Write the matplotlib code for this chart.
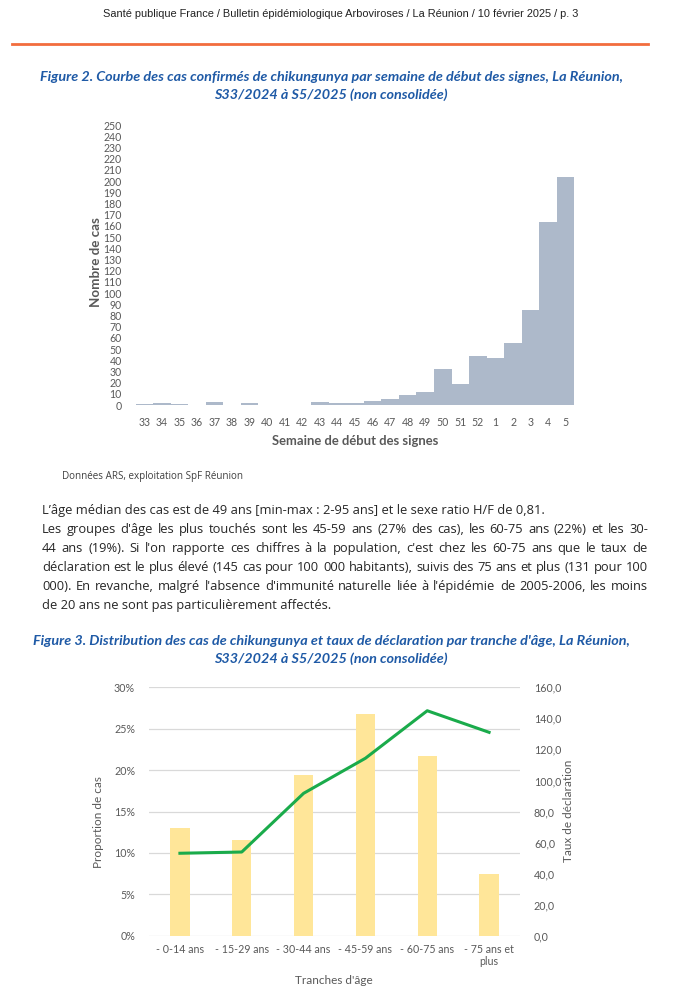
import numpy as np
import matplotlib
matplotlib.use('Agg')
import matplotlib.pyplot as plt
from matplotlib.ticker import FuncFormatter, MultipleLocator

# --- données figure 2 : cas confirmés par semaine
semaines = ['33', '34', '35', '36', '37', '38', '39', '40', '41', '42', '43', '44', '45',
            '46', '47', '48', '49', '50', '51', '52', '1', '2', '3', '4', '5']
cas = [1, 2, 1, 0, 3, 0, 2, 0, 0, 0, 3, 2, 2, 4, 5, 9, 12, 32, 19, 44, 42, 55, 85, 163, 204]

# --- données figure 3 : tranches d'âge
tranches = ['- 0-14 ans', '- 15-29 ans', '- 30-44 ans', '- 45-59 ans', '- 60-75 ans', '- 75 ans et\nplus']
proportion = [13.0, 11.5, 19.4, 26.8, 21.7, 7.5]
taux = [53.1, 53.9, 91.7, 114.3, 144.9, 131.0]

entete = "Santé publique France / Bulletin épidémiologique Arboviroses / La Réunion / 10 février 2025 / p. 3"
titre2 = ["Figure 2. Courbe des cas confirmés de chikungunya par semaine de début des signes, La Réunion,",
          "S33/2024 à S5/2025 (non consolidée)"]
titre3 = ["Figure 3. Distribution des cas de chikungunya et taux de déclaration par tranche d'âge, La Réunion,",
          "S33/2024 à S5/2025 (non consolidée)"]
source = "Données ARS, exploitation SpF Réunion"
paragraphe = [
    ("L’âge médian des cas est de 49 ans [min-max : 2-95 ans] et le sexe ratio H/F de 0,81.", False),
    ("Les groupes d'âge les plus touchés sont les 45-59 ans (27% des cas), les 60-75 ans (22%) et les 30-", True),
    ("44 ans (19%). Si l'on rapporte ces chiffres à la population, c'est chez les 60-75 ans que le taux de", True),
    ("déclaration est le plus élevé (145 cas pour 100 000 habitants), suivis des 75 ans et plus (131 pour 100", True),
    ("000). En revanche, malgré l'absence d'immunité naturelle liée à l'épidémie de 2005-2006, les moins", True),
    ("de 20 ans ne sont pas particulièrement affectés.", False),
]

W, H = 683, 1000
gris = '#595959'
bleu = '#1f5aa6'
chart_font = 'Lato'
texte_font = 'Open Sans'

fig = plt.figure(figsize=(W / 100, H / 100), dpi=100)

def fx(x):
    return x / W

def fy(y):
    return 1 - y / H

# entete + trait orange
fig.text(fx(341), fy(14), entete, ha='center', va='center', fontsize=7.9,
         family='Liberation Sans', color='#222222')
fig.add_artist(plt.Line2D([fx(12), fx(648)], [fy(44), fy(44)], color='#f26d3d', lw=2))

# titres
for i, t in enumerate(titre2):
    fig.text(fx(331), fy(77 + 18 * i), t, ha='center', va='center', fontsize=10.4,
             family=chart_font, weight='bold', style='italic', color=bleu)
for i, t in enumerate(titre3):
    fig.text(fx(331), fy(641 + 18 * i), t, ha='center', va='center', fontsize=10.4,
             family=chart_font, weight='bold', style='italic', color=bleu)

# ---------- figure 2
ax1 = fig.add_axes([fx(135.5), fy(405), (574.5 - 135.5) / W, (405 - 125) / H])
x = np.arange(len(semaines))
ax1.bar(x, cas, width=1.0, color='#adb9ca', edgecolor='none')
ax1.set_xlim(-0.5, len(semaines) - 0.5)
ax1.set_ylim(0, 250)
ax1.yaxis.set_major_locator(MultipleLocator(10))
ax1.set_xticks(x)
ax1.set_xticklabels(semaines)
for s in ax1.spines.values():
    s.set_visible(False)
ax1.tick_params(length=0, labelsize=7.6, colors=gris, pad=9)
ax1.tick_params(axis='y', pad=10)
for lab in ax1.get_xticklabels() + ax1.get_yticklabels():
    lab.set_family(chart_font)
fig.text(fx(96), fy(262), 'Nombre de cas', rotation=90, ha='center', va='center',
         fontsize=9.6, family=chart_font, weight='bold', color=gris)
fig.text(fx(355), fy(441), 'Semaine de début des signes', ha='center', va='center',
         fontsize=9.4, family=chart_font, weight='bold', color=gris)

fig.text(fx(62), fy(477), source, ha='left', va='center', fontsize=7.1,
         family=texte_font, color='#404040')

# ---------- paragraphe justifié
renderer = fig.canvas.get_renderer()
ys = [514, 533, 552, 571, 590, 608.5]  # lignes de base
x0, x1 = 42, 648
pfs = 9.3
for (ligne, just), yy in zip(paragraphe, ys):
    if not just:
        fig.text(fx(x0), fy(yy), ligne, ha='left', va='baseline', fontsize=pfs,
                 family=texte_font, color='#262626')
        continue
    mots = ligne.split(' ')
    objs = [fig.text(0, fy(yy), m, ha='left', va='baseline', fontsize=pfs,
                     family=texte_font, color='#262626') for m in mots]
    larg = [o.get_window_extent(renderer).width for o in objs]
    gap = (x1 - x0 - sum(larg)) / (len(mots) - 1)
    pos = x0
    for o, w in zip(objs, larg):
        o.set_x(fx(pos))
        pos += w + gap

# ---------- figure 3
ax2 = fig.add_axes([fx(149), fy(935.7), (520 - 149) / W, (935.7 - 687.3) / H])
x3 = np.arange(len(tranches))
ax2.bar(x3, proportion, width=0.31, color='#ffe699', edgecolor='none', zorder=2)
ax2.set_xlim(-0.5, len(tranches) - 0.5)
ax2.set_ylim(0, 30)
ax2.yaxis.set_major_locator(MultipleLocator(5))
ax2.yaxis.set_major_formatter(FuncFormatter(lambda v, p: '%d%%' % v))
ax2.grid(axis='y', color='#d9d9d9', lw=0.9, zorder=0)
ax2.set_axisbelow(True)
ax2.set_xticks(x3)
ax2.set_xticklabels(tranches, linespacing=1.1)
for s in ax2.spines.values():
    s.set_visible(False)
ax2.tick_params(length=0, labelsize=7.7, colors=gris)
ax2.tick_params(axis='y', pad=10)
ax2.tick_params(axis='x', pad=6)
for lab in ax2.get_xticklabels() + ax2.get_yticklabels():
    lab.set_family(chart_font)

ax3 = ax2.twinx()
ax3.plot(x3, taux, color='#1aab4b', lw=2.2, zorder=3)
ax3.set_ylim(0, 160)
ax3.yaxis.set_major_locator(MultipleLocator(20))
ax3.yaxis.set_major_formatter(FuncFormatter(lambda v, p: ('%.1f' % v).replace('.', ',')))
for s in ax3.spines.values():
    s.set_visible(False)
ax3.tick_params(length=0, labelsize=7.7, colors=gris, pad=10)
for lab in ax3.get_yticklabels():
    lab.set_family(chart_font)

fig.text(fx(98), fy(822), 'Proportion de cas', rotation=90, ha='center', va='center',
         fontsize=8.5, family=chart_font, color=gris)
fig.text(fx(568), fy(811), 'Taux de déclaration', rotation=90, ha='center', va='center',
         fontsize=8.5, family=chart_font, color=gris)
fig.text(fx(334), fy(981), "Tranches d'âge", ha='center', va='center',
         fontsize=8.5, family=chart_font, color=gris)

fig.savefig('out.png', dpi=100)
